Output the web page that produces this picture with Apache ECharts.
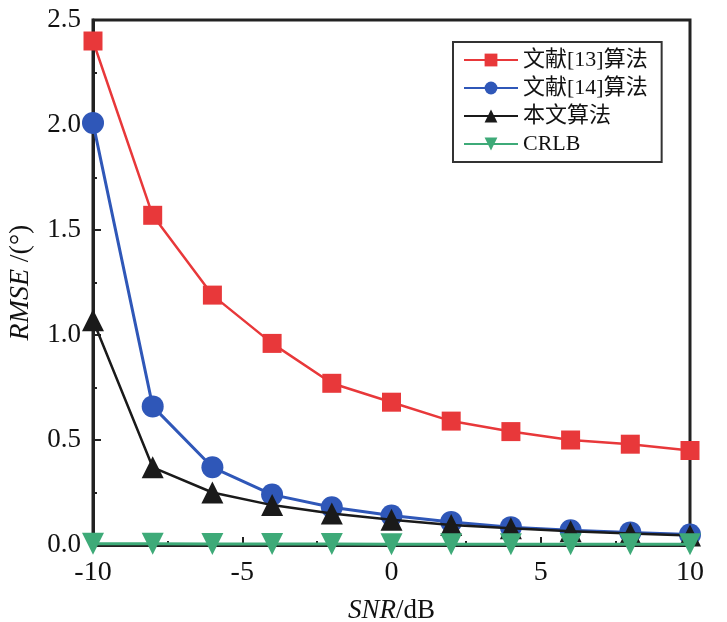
<!DOCTYPE html>
<html>
<head>
    <meta charset="utf-8">
    <title>RMSE vs SNR</title>
    <script src="https://cdn.jsdelivr.net/npm/echarts@6/dist/echarts.min.js"></script>
    <style>
        html, body { margin: 0; padding: 0; background: #fff; }
    </style>
</head>
<body>
    <div id="chart" style="width: 727px; height: 622px;"></div>
    <script>
        // SNR (dB)
        const snr = [-10, -8, -6, -4, -2, 0, 2, 4, 6, 8, 10];
        const seriesNames = ['文献[13]算法', '文献[14]算法', '本文算法', 'CRLB'];
        // RMSE (°)
        const ref13 = [2.40, 1.57, 1.19, 0.96, 0.77, 0.68, 0.59, 0.54, 0.50, 0.48, 0.45];
        const ref14 = [2.01, 0.66, 0.37, 0.24, 0.18, 0.14, 0.11, 0.085, 0.07, 0.06, 0.05];
        const ours  = [1.07, 0.37, 0.25, 0.19, 0.15, 0.12, 0.095, 0.08, 0.065, 0.055, 0.045];
        const crlb  = [0.006, 0.006, 0.005, 0.005, 0.005, 0.004, 0.004, 0.004, 0.003, 0.003, 0.003];
        const xTicks = [-10, -5, 0, 5, 10];
        const yTicks = [0, 0.5, 1.0, 1.5, 2.0, 2.5];

        const serif = '"Liberation Serif", "DejaVu Serif", "Noto Sans CJK SC", serif';
        const pairs = ys => snr.map((x, i) => [x, ys[i]]);

        function line(name, ys, color, symbol, size, width, z) {
            return {
                name: name,
                type: 'line',
                data: pairs(ys),
                symbol: symbol,
                symbolSize: size,
                z: z,
                lineStyle: { color: color, width: width },
                itemStyle: { color: color },
                emphasis: { disabled: true }
            };
        }

        const option = {
            backgroundColor: '#fff',
            animation: false,
            grid: {
                left: 93, right: 37, top: 20, bottom: 77,
                containLabel: false,
                outerBoundsMode: 'none',
                show: true,
                borderColor: '#222',
                borderWidth: 3
            },
            legend: {
                orient: 'vertical',
                left: 453,
                top: 42,
                padding: [7, 14, 7, 10],
                itemWidth: 54,
                itemHeight: 16,
                itemGap: 6,
                borderColor: '#333',
                borderWidth: 2,
                textStyle: {
                    fontFamily: '"Liberation Serif", "Noto Sans CJK SC", serif',
                    fontSize: 22,
                    color: '#111',
                    lineHeight: 22
                },
                data: seriesNames
            },
            xAxis: {
                type: 'value',
                min: xTicks[0],
                max: xTicks[xTicks.length - 1],
                interval: 5,
                name: '{i|SNR}{n|/dB}',
                nameLocation: 'middle',
                nameGap: 52,
                nameTextStyle: {
                    rich: {
                        i: { fontFamily: serif, fontStyle: 'italic', fontSize: 27, color: '#111' },
                        n: { fontFamily: serif, fontSize: 27, color: '#111' }
                    }
                },
                axisLine: { onZero: false, lineStyle: { color: '#222', width: 3 } },
                axisTick: { inside: true, length: 8, lineStyle: { color: '#222', width: 2 } },
                minorTick: { show: true, splitNumber: 2, length: 4, lineStyle: { color: '#222', width: 2 } },
                axisLabel: {
                    fontFamily: serif, fontSize: 28, color: '#111', margin: 14
                },
                splitLine: { show: false }
            },
            yAxis: {
                type: 'value',
                min: yTicks[0],
                max: yTicks[yTicks.length - 1],
                interval: 0.5,
                name: '{i|RMSE}  {n|/(°)}',
                nameLocation: 'middle',
                nameGap: 58,
                nameTextStyle: {
                    rich: {
                        i: { fontFamily: serif, fontStyle: 'italic', fontSize: 28, color: '#111' },
                        n: { fontFamily: serif, fontSize: 28, color: '#111' }
                    }
                },
                axisLine: { onZero: false, lineStyle: { color: '#222', width: 3 } },
                axisTick: { inside: true, length: 8, lineStyle: { color: '#222', width: 2 } },
                minorTick: { show: true, splitNumber: 2, length: 4, lineStyle: { color: '#222', width: 2 } },
                axisLabel: {
                    fontFamily: serif, fontSize: 27, color: '#111', margin: 12,
                    formatter: v => v.toFixed(1)
                },
                splitLine: { show: false }
            },
            series: [
                line(seriesNames[0], ref13, '#e8383a', 'rect', 19, 2.5, 4),
                line(seriesNames[1], ref14, '#2f57b8', 'circle', 22, 3, 3),
                line(seriesNames[2], ours, '#1a1a1a', 'triangle', 22, 2.5, 5),
                line(seriesNames[3], crlb, '#3eaa78', 'path://M0,0 L10,0 L5,9 Z', 22, 3, 6)
            ]
        };

        const myChart = echarts.init(document.getElementById('chart'));
        myChart.setOption(option);
    </script>
</body>
</html>
